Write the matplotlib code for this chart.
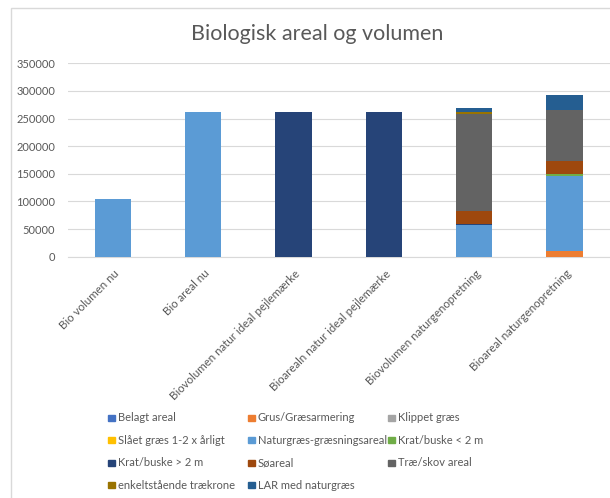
import matplotlib
matplotlib.use("Agg")
import matplotlib.pyplot as plt
from matplotlib.patches import Rectangle
from matplotlib.transforms import ScaledTranslation
import numpy as np

plt.rcParams["font.family"] = ["Lato", "DejaVu Sans"]

# ----- data -----
categories = [
    "Bio volumen nu",
    "Bio areal nu",
    "Biovolumen natur ideal pejlemærke",
    "Bioarealn natur ideal pejlemærke",
    "Biovolumen naturgenopretning",
    "Bioareal naturgenopretning",
]
series_names = [
    "Belagt areal", "Grus/Græsarmering", "Klippet græs",
    "Slået græs 1-2 x årligt", "Naturgræs-græsningsareal", "Krat/buske < 2 m",
    "Krat/buske > 2 m", "Søareal", "Træ/skov areal",
    "enkeltstående trækrone", "LAR med naturgræs",
]
belagt = [0, 0, 0, 0, 0, 0]
grus = [0, 0, 0, 0, 0, 10000]
klippet = [0, 0, 0, 0, 0, 0]
slaaet = [0, 0, 0, 0, 0, 0]
naturgraes = [104000, 262000, 0, 0, 57000, 136000]
krat_lav = [0, 0, 0, 0, 0, 3000]
krat_hoj = [0, 0, 262000, 262000, 3000, 0]
soeareal = [0, 0, 0, 0, 22500, 24000]
trae_skov = [0, 0, 0, 0, 175000, 92000]
enkelt = [0, 0, 0, 0, 5000, 0]
lar = [0, 0, 0, 0, 7000, 28000]
yticks = [0, 50000, 100000, 150000, 200000, 250000, 300000, 350000]

series = [belagt, grus, klippet, slaaet, naturgraes, krat_lav,
          krat_hoj, soeareal, trae_skov, enkelt, lar]
colors = ["#4472C4", "#ED7D31", "#A5A5A5", "#FFC000", "#5B9BD5", "#70AD47",
          "#264478", "#9E480E", "#636363", "#997300", "#255E91"]
GREY = "#595959"

W, H = 610, 498
fig = plt.figure(figsize=(W / 100, H / 100), dpi=100)

# chart border (excel chart area)
fig.patches.append(Rectangle((11 / W, -0.1), 1.1, 1 - 8 / H + 0.1,
                             transform=fig.transFigure, fill=False,
                             edgecolor="#D9D9D9", lw=1))

ax = fig.add_axes([67.6 / W, 1 - 256.7 / H, (609.7 - 67.6) / W, (256.7 - 63.3) / H])
x = np.arange(len(categories))
bottom = np.zeros(len(categories))
for vals, col in zip(series, colors):
    ax.bar(x, vals, 0.4, bottom=bottom, color=col, zorder=3)
    bottom += np.array(vals)

ax.set_xlim(-0.5, len(categories) - 0.5)
ax.set_ylim(0, 350000)
ax.set_yticks(yticks)
ax.set_yticklabels([str(v) for v in yticks], fontsize=8, color=GREY)
ax.grid(axis="y", color="#D9D9D9", lw=0.8, zorder=0)
for s in ["top", "right", "left"]:
    ax.spines[s].set_visible(False)
ax.spines["bottom"].set_color("#D9D9D9")
ax.tick_params(axis="y", length=0, pad=9)
ax.tick_params(axis="x", length=0, pad=8)
ax.set_xticks(x)
ax.set_xticklabels(categories, rotation=45, rotation_mode="anchor",
                   ha="right", va="top", fontsize=8.3, color=GREY)
shift = ScaledTranslation(1 / 100, 0, fig.dpi_scale_trans)
for lab in ax.get_xticklabels():
    lab.set_transform(lab.get_transform() + shift)

fig.text(317.5 / W, 1 - 33.5 / H, "Biologisk areal og volumen", ha="center",
         va="center", fontsize=15.5, color=GREY)

# legend, row-major like excel
for i, (name, col) in enumerate(zip(series_names, colors)):
    r, c = divmod(i, 3)
    lx = 111 + c * 140
    ly = 417.5 + r * 22.5
    fig.patches.append(Rectangle(((lx - 3.5) / W, 1 - (ly + 3) / H), 7 / W, 6 / H,
                                 transform=fig.transFigure, color=col))
    fig.text((lx + 7) / W, 1 - ly / H, name, ha="left", va="center",
             fontsize=8.0, color=GREY)

fig.savefig("out.png", dpi=100)
